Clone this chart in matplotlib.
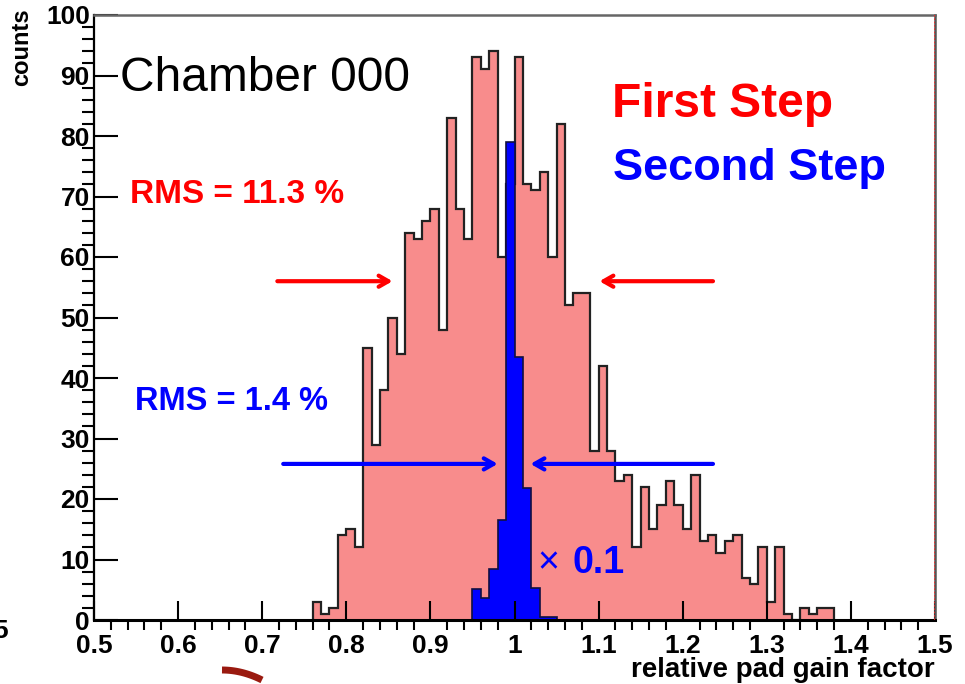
import matplotlib
matplotlib.use("Agg")
import matplotlib.pyplot as plt
import numpy as np
from matplotlib.ticker import MultipleLocator, FormatStrFormatter

plt.rcParams['font.family'] = ['Liberation Sans', 'DejaVu Sans']

# histogram contents, bin width 0.01
bin_w = 0.01
red_start = 0.76
red_counts = [3, 1, 2, 14, 15, 12, 45, 29, 38, 50,
              44, 64, 63, 66, 68, 48, 83, 68, 63, 93,
              91, 94, 60, 72, 93, 72, 71, 74, 60, 82,
              52, 54, 54, 28, 42, 28, 23, 24, 12, 22,
              15, 19, 23, 19, 15, 24, 13, 14, 11, 13,
              14, 7, 6, 12, 3, 12, 1, 0, 2, 1,
              2, 2]
blue_start = 0.95
blue_counts = [5.2, 3.6, 8.5, 16.6, 79, 43.5, 21.8, 5.3, 0.5, 0.5]   # scaled x0.1

# rms markers: (tail, tip) in x, and height
red_arrow_y = 56
red_arrows = [(0.718, 0.855), (1.236, 1.101)]
blue_arrow_y = 25.8
blue_arrows = [(0.725, 0.980), (1.236, 1.019)]

W, H = 965, 684
def fx(px):
    return px / W
def fy(py):
    return 1 - py / H

fig = plt.figure(figsize=(W / 100, H / 100), dpi=100)
ax = fig.add_axes([fx(94), fy(620), (935 - 94) / W, (620 - 15) / H])

red_edges = red_start + bin_w * np.arange(len(red_counts) + 1)
blue_edges = blue_start + bin_w * np.arange(len(blue_counts) + 1)
ax.stairs(red_counts, red_edges, fill=True, facecolor='#f88c8c', edgecolor='none')
ax.stairs(red_counts, red_edges, color='#222222', lw=1.6)
ax.stairs(blue_counts, blue_edges, fill=True, facecolor='#0000ff', edgecolor='none')
ax.stairs(blue_counts, blue_edges, color='#101040', lw=1.2)

for tail, tip in red_arrows:
    ax.annotate('', xy=(tip, red_arrow_y), xytext=(tail, red_arrow_y),
                arrowprops=dict(arrowstyle='->,head_length=0.7,head_width=0.4',
                                lw=3, color='#ff0000', shrinkA=0, shrinkB=0))
for tail, tip in blue_arrows:
    ax.annotate('', xy=(tip, blue_arrow_y), xytext=(tail, blue_arrow_y),
                arrowprops=dict(arrowstyle='->,head_length=0.7,head_width=0.4',
                                lw=3, color='#0000ff', shrinkA=0, shrinkB=0))

ax.set_xlim(0.5, 1.5)
ax.set_ylim(0, 100)
ax.xaxis.set_major_locator(MultipleLocator(0.1))
ax.xaxis.set_minor_locator(MultipleLocator(0.02))
ax.yaxis.set_major_locator(MultipleLocator(10))
ax.yaxis.set_minor_locator(MultipleLocator(2))
ax.xaxis.set_major_formatter(FormatStrFormatter('%g'))
ax.tick_params(direction='in', width=1.5, labelsize=19, top=False, right=False)
ax.tick_params(axis='x', which='major', length=14, pad=10)
ax.tick_params(axis='x', which='minor', length=7, width=1.5)
ax.tick_params(axis='y', which='major', length=17, pad=3)
ax.tick_params(axis='y', which='minor', length=9, width=1.5)
for lab in ax.get_xticklabels() + ax.get_yticklabels():
    lab.set_fontweight('bold')

ax.spines['left'].set_linewidth(1.6)
ax.spines['bottom'].set_linewidth(2.2)
ax.spines['top'].set_color('#666666')
ax.spines['top'].set_linewidth(1.8)
ax.spines['right'].set_color('#555555')
ax.spines['right'].set_linewidth(1.8)
ax.axvline(1.5, color='#ff2020', lw=1.2, ls=(0, (1, 1)), zorder=5)

# labels and annotations
fig.text(fx(935), fy(677), 'relative pad gain factor', ha='right', va='baseline',
         fontsize=20, fontweight='bold')
fig.text(fx(22), fy(8), 'counts', rotation=90, ha='center', va='top',
         fontsize=17, fontweight='bold')
fig.text(fx(120), fy(91), 'Chamber 000', fontsize=34.5, va='baseline')
fig.text(fx(612), fy(117), 'First Step', fontsize=34.5, fontweight='bold',
         color='#ff0000', va='baseline')
fig.text(fx(613), fy(180), 'Second Step', fontsize=32.5, fontweight='bold',
         color='#0000ff', va='baseline')
fig.text(fx(130), fy(203), 'RMS = 11.3 %', fontsize=24, fontweight='bold',
         color='#ff0000', va='baseline')
fig.text(fx(135), fy(410), 'RMS = 1.4 %', fontsize=23.5, fontweight='bold',
         color='#0000ff', va='baseline')
fig.text(fx(537), fy(573), '\u00d7', fontsize=27, color='#0000ff', va='baseline')
fig.text(fx(572), fy(573), '0.1', fontsize=27, fontweight='bold',
         color='#0000ff', va='baseline')
fig.text(fx(8), fy(638), '5', fontsize=19, fontweight='bold', ha='right', va='baseline')

# bit of a bracket cut off at the bottom edge
t = np.linspace(0, 1, 30)
fig.add_artist(plt.Line2D(fx(222 + 40 * t), fy(670 + 10 * t ** 2),
                          color='#9a1a10', lw=5, solid_capstyle='butt'))

fig.savefig('out.png', dpi=100)
